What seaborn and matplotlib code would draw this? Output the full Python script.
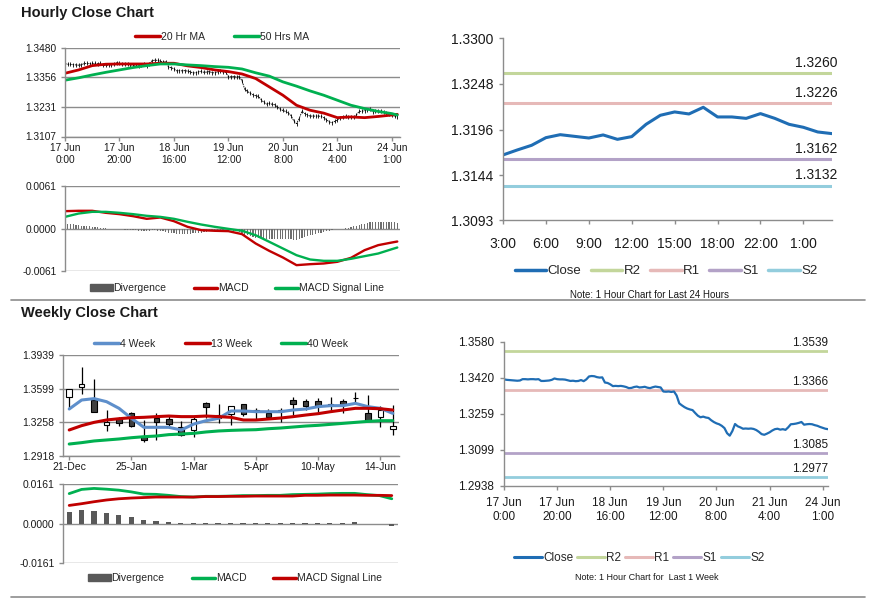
import numpy as np
import pandas as pd
import matplotlib
matplotlib.use("Agg")
import matplotlib.pyplot as plt
import seaborn as sns
from matplotlib.lines import Line2D
from matplotlib.patches import Patch

# ------------------------------------------------------------------ data
hour_labels = ["17 Jun\n0:00", "17 Jun\n20:00", "18 Jun\n16:00", "19 Jun\n12:00",
               "20 Jun\n8:00", "21 Jun\n4:00", "24 Jun\n1:00"]
hour_close = [
    1.3412, 1.3410, 1.3409, 1.3408, 1.3407, 1.3406, 1.3407, 1.3413, 1.3413, 1.3412,
    1.3413, 1.3413, 1.3412, 1.3413, 1.3405, 1.3405, 1.3406, 1.3407, 1.3410, 1.3416,
    1.3413, 1.3412, 1.3412, 1.3411, 1.3408, 1.3405, 1.3406, 1.3404, 1.3405, 1.3409,
    1.3404, 1.3412, 1.3425, 1.3427, 1.3426, 1.3422, 1.3420, 1.3421, 1.3398, 1.3396,
    1.3390, 1.3382, 1.3383, 1.3382, 1.3383, 1.3381, 1.3378, 1.3373, 1.3374, 1.3378,
    1.3380, 1.3376, 1.3377, 1.3379, 1.3375, 1.3373, 1.3377, 1.3380, 1.3378, 1.3376,
    1.3358, 1.3357, 1.3358, 1.3356, 1.3358, 1.3340, 1.3305, 1.3296, 1.3288, 1.3282,
    1.3278, 1.3275, 1.3262, 1.3250, 1.3243, 1.3246, 1.3242, 1.3240, 1.3230, 1.3222,
    1.3216, 1.3212, 1.3205, 1.3195, 1.3172, 1.3161, 1.3182, 1.3213, 1.3203, 1.3198,
    1.3192, 1.3193, 1.3192, 1.3193, 1.3191, 1.3186, 1.3178, 1.3168, 1.3165, 1.3170,
    1.3176, 1.3184, 1.3190, 1.3192, 1.3188, 1.3190, 1.3187, 1.3198, 1.3212, 1.3213,
    1.3215, 1.3218, 1.3222, 1.3210, 1.3212, 1.3213, 1.3212, 1.3208, 1.3205, 1.3200,
    1.3196, 1.3192, 1.3190]
ma_idx = [0, 5, 10, 15, 20, 25, 30, 35, 40, 45, 50, 55, 60, 65, 70, 75, 80, 85, 90,
          95, 100, 105, 110, 115, 120, 122]
ma20 = [1.3372, 1.3386, 1.3404, 1.3410, 1.3411, 1.3411, 1.3411, 1.3414, 1.3414, 1.3403,
        1.3396, 1.3386, 1.3379, 1.3369, 1.3350, 1.3315, 1.3280, 1.3238, 1.3217, 1.3205,
        1.3186, 1.3189, 1.3186, 1.3191, 1.3197, 1.3200]
ma50 = [1.3343, 1.3353, 1.3365, 1.3376, 1.3386, 1.3396, 1.3404, 1.3411, 1.3411, 1.3407,
        1.3404, 1.3400, 1.3397, 1.3390, 1.3374, 1.3360, 1.3336, 1.3318, 1.3298, 1.3280,
        1.3259, 1.3238, 1.3224, 1.3212, 1.3203, 1.3197]
h_macd = [0.00249, 0.00254, 0.00254, 0.00225, 0.00206, 0.00177, 0.00139, 0.00158, 0.00105,
          0.00024, -0.00024, -0.00033, -0.00038, -0.00081, -0.00215, -0.00321, -0.00416,
          -0.00526, -0.00512, -0.00502, -0.00478, -0.00421, -0.00311, -0.00239, -0.00201,
          -0.00187]
h_signal = [0.00167, 0.00215, 0.00239, 0.00239, 0.00225, 0.00206, 0.00182, 0.00167, 0.00139,
            0.00096, 0.00057, 0.00024, -0.00005, -0.00033, -0.00096, -0.00191, -0.00287,
            -0.00383, -0.00445, -0.00464, -0.00464, -0.00435, -0.00397, -0.00359, -0.00297,
            -0.00273]
h_div = [
    0.0007, 0.0007, 0.0006, 0.0006, 0.0005, 0.0005, 0.0004, 0.0004, 0.0003, 0.0003,
    0.0002, 0.0002, 0.0002, 0.0001, 0.0001, 0.0001, 0.0000, 0.0000, -0.0001, -0.0001,
    -0.0001, -0.0001, -0.0002, -0.0002, -0.0002, -0.0002, -0.0002, -0.0003, -0.0003, -0.0003,
    -0.0003, -0.0003, -0.0002, -0.0002, -0.0003, -0.0004, -0.0004, -0.0005, -0.0006, -0.0007,
    -0.0007, -0.0008, -0.0008, -0.0008, -0.0008, -0.0008, -0.0008, -0.0007, -0.0007, -0.0006,
    -0.0006, -0.0005, -0.0005, -0.0004, -0.0004, -0.0003, -0.0003, -0.0002, -0.0002, -0.0001,
    -0.0001, -0.0002, -0.0003, -0.0004, -0.0005, -0.0007, -0.0009, -0.0010, -0.0011, -0.0012,
    -0.0013, -0.0013, -0.0014, -0.0014, -0.0015, -0.0015, -0.0015, -0.0015, -0.0015, -0.0015,
    -0.0015, -0.0015, -0.0015, -0.0015, -0.0016, -0.0016, -0.0015, -0.0013, -0.0012, -0.0011,
    -0.0010, -0.0009, -0.0008, -0.0007, -0.0006, -0.0005, -0.0004, -0.0003, -0.0002, -0.0001,
    -0.0001, 0.0000, 0.0000, 0.0001, 0.0001, 0.0002, 0.0003, 0.0004, 0.0005, 0.0006,
    0.0007, 0.0008, 0.0009, 0.0010, 0.0010, 0.0010, 0.0010, 0.0010, 0.0010, 0.0010,
    0.0009, 0.0009, 0.0008]

day_labels = ["3:00", "6:00", "9:00", "12:00", "15:00", "18:00", "22:00", "1:00"]
day_close = [1.31671, 1.31728, 1.31781, 1.31868, 1.31902, 1.31883, 1.31864, 1.31899,
             1.31849, 1.31880, 1.32020, 1.32123, 1.32161, 1.32138, 1.32214, 1.32104,
             1.32104, 1.32088, 1.32142, 1.32088, 1.32020, 1.31986, 1.31933, 1.31914]
day_levels = {"R2": 1.3260, "R1": 1.3226, "S1": 1.3162, "S2": 1.3132}
week_levels = {"R2": 1.3539, "R1": 1.3366, "S1": 1.3085, "S2": 1.2977}

wk_labels = ["21-Dec", "25-Jan", "1-Mar", "5-Apr", "10-May", "14-Jun"]
wk_open = [1.3511, 1.3620, 1.3484, 1.3228, 1.3288, 1.3356, 1.3106, 1.3298, 1.3288, 1.3214,
           1.3181, 1.3450, 1.3333, 1.3339, 1.3440, 1.3380, 1.3356, 1.3380, 1.3484, 1.3474,
           1.3474, 1.3447, 1.3474, 1.3505, 1.3356, 1.3316, 1.3188]
wk_high = [1.3595, 1.3815, 1.3693, 1.3383, 1.3315, 1.3366, 1.3279, 1.3349, 1.3332, 1.3275,
           1.3309, 1.3467, 1.3444, 1.3427, 1.3440, 1.3403, 1.3393, 1.3400, 1.3518, 1.3491,
           1.3504, 1.3511, 1.3498, 1.3565, 1.3535, 1.3423, 1.3434]
wk_low = [1.3400, 1.3540, 1.3360, 1.3171, 1.3221, 1.3208, 1.3063, 1.3080, 1.3198, 1.3120,
          1.3107, 1.3299, 1.3255, 1.3231, 1.3322, 1.3282, 1.3309, 1.3265, 1.3332, 1.3383,
          1.3366, 1.3383, 1.3349, 1.3467, 1.3282, 1.3214, 1.3130]
wk_close = [1.3595, 1.3646, 1.3360, 1.3262, 1.3248, 1.3221, 1.3079, 1.3264, 1.3238, 1.3126,
            1.3288, 1.3410, 1.3298, 1.3427, 1.3342, 1.3376, 1.3316, 1.3372, 1.3440, 1.3423,
            1.3423, 1.3430, 1.3434, 1.3501, 1.3282, 1.3383, 1.3221]
wk_ma4 = [1.3393, 1.3484, 1.3498, 1.3467, 1.3400, 1.3299, 1.3208, 1.3208, 1.3208, 1.3181,
          1.3241, 1.3275, 1.3299, 1.3373, 1.3373, 1.3366, 1.3366, 1.3366, 1.3383, 1.3393,
          1.3417, 1.3427, 1.3427, 1.3450, 1.3417, 1.3400, 1.3349]
wk_ma13 = [1.3181, 1.3225, 1.3258, 1.3282, 1.3295, 1.3305, 1.3309, 1.3316, 1.3322, 1.3316,
           1.3316, 1.3322, 1.3316, 1.3309, 1.3282, 1.3282, 1.3292, 1.3302, 1.3316, 1.3332,
           1.3346, 1.3366, 1.3383, 1.3400, 1.3400, 1.3396, 1.3383]
wk_ma40 = [1.3039, 1.3053, 1.3070, 1.3080, 1.3090, 1.3103, 1.3113, 1.3120, 1.3134, 1.3140,
           1.3147, 1.3161, 1.3171, 1.3177, 1.3181, 1.3184, 1.3194, 1.3201, 1.3211, 1.3221,
           1.3228, 1.3238, 1.3248, 1.3258, 1.3268, 1.3275, 1.3275]
wk_macd = [0.0122, 0.0139, 0.0143, 0.0140, 0.0136, 0.0129, 0.0120, 0.0119, 0.0115, 0.0110,
           0.0108, 0.0111, 0.0111, 0.0112, 0.0114, 0.0114, 0.0115, 0.0115, 0.0118, 0.0119,
           0.0120, 0.0122, 0.0123, 0.0123, 0.0118, 0.0114, 0.0101]
wk_signal = [0.0074, 0.0081, 0.0089, 0.0096, 0.0101, 0.0104, 0.0106, 0.0108, 0.0108, 0.0108,
             0.0108, 0.0110, 0.0110, 0.0111, 0.0111, 0.0112, 0.0112, 0.0112, 0.0112, 0.0115,
             0.0115, 0.0116, 0.0116, 0.0116, 0.0115, 0.0115, 0.0114]
wk_div = [0.0047, 0.0054, 0.0050, 0.0045, 0.0037, 0.0027, 0.0015, 0.0011, 0.0008, 0.0001,
          0.0001, 0.0004, 0.0003, 0.0003, 0.0003, 0.0003, 0.0003, 0.0003, 0.0003, 0.0003,
          0.0003, 0.0003, 0.0003, 0.0008, -0.0001, -0.0001, -0.0009]

# ------------------------------------------------------------------ style
sns.set_theme(style="white")
plt.rcParams["font.family"] = ["Liberation Sans", "DejaVu Sans"]
RED, GREEN, BLUE4, CLOSE = "#C00000", "#00B050", "#5E8FCB", "#1F6DB4"
LVL_COL = {"R2": "#C3D69B", "R1": "#E6B9B8", "S1": "#B3A2C7", "S2": "#93CDDD"}
GRAY = "#8C8C8C"
TXT = "#1a1a1a"

W, H = 873, 601
fig = plt.figure(figsize=(W / 100, H / 100), dpi=100)
fig.patch.set_facecolor("white")


def box(l, t, r, b):
    return [l / W, 1 - b / H, (r - l) / W, (b - t) / H]


def base_style(ax, fs, grid=True, ticks_x=True):
    for s in ["top", "right"]:
        ax.spines[s].set_visible(False)
    ax.spines["left"].set_color(GRAY)
    ax.spines["bottom"].set_color(GRAY)
    ax.spines["left"].set_linewidth(1.0)
    ax.spines["bottom"].set_linewidth(1.0)
    ax.tick_params(axis="both", labelsize=fs, colors=GRAY, labelcolor=TXT,
                   direction="out", length=3, width=1.0)
    ax.tick_params(axis="y", left=True, pad=3)
    ax.tick_params(axis="x", bottom=ticks_x)
    if grid:
        ax.yaxis.grid(True, color=GRAY, linewidth=1.0)
    else:
        ax.grid(False)
    ax.set_xlabel("")
    ax.set_ylabel("")


def fmt4(v):
    return f"{v:.4f}"


# ================================================= Hourly price (top left)
hidx = np.arange(len(hour_close))
ax1 = fig.add_axes(box(65, 47.5, 400, 136.5))
sns.lineplot(x=hidx, y=hour_close, ax=ax1, color="black", linewidth=0.6,
             linestyle=(0, (2, 1)), marker="|", markersize=2.2, markeredgewidth=0.6,
             markeredgecolor="black")
sns.lineplot(x=ma_idx, y=ma20, ax=ax1, color=RED, linewidth=2.0)
sns.lineplot(x=ma_idx, y=ma50, ax=ax1, color=GREEN, linewidth=2.0)
ax1.set_xlim(0, 123)
ax1.set_ylim(1.3107, 1.3480)
yt = [1.3107, 1.3231, 1.3356, 1.3480]
ax1.set_yticks(yt)
ax1.set_yticklabels([fmt4(v) for v in yt])
ax1.set_xticks([0, 20, 40, 60, 80, 100, 120])
ax1.set_xticklabels(hour_labels)
base_style(ax1, 7.3)
ax1.tick_params(axis="x", pad=2, length=3)
ax1.legend(handles=[Line2D([], [], color=RED, lw=2.5), Line2D([], [], color=GREEN, lw=2.5)],
           labels=["20 Hr MA", "50 Hrs MA"], loc="center",
           bbox_to_anchor=(222 / W, 1 - 37 / H), bbox_transform=fig.transFigure,
           ncol=2, frameon=False, fontsize=7.5, handlelength=2.4, handletextpad=0.1,
           columnspacing=2.8)

# ================================================= Hourly MACD
ax2 = fig.add_axes(box(65, 186, 400, 271))
ax2.bar(hidx, h_div, width=0.45, color="#6F6F6F", linewidth=0)
sns.lineplot(x=ma_idx, y=h_macd, ax=ax2, color=RED, linewidth=1.7)
sns.lineplot(x=ma_idx, y=h_signal, ax=ax2, color=GREEN, linewidth=1.7)
ax2.set_xlim(0, 123)
ax2.set_ylim(-0.0061, 0.0061)
ax2.set_yticks([-0.0061, 0.0, 0.0061])
ax2.set_yticklabels(["-0.0061", "0.0000", "0.0061"])
ax2.set_xticks([])
base_style(ax2, 7.3)
ax2.spines["bottom"].set_visible(False)
ax2.set_axisbelow(True)
ax2.legend(handles=[Patch(color="#595959"), Line2D([], [], color=RED, lw=2.5),
                    Line2D([], [], color=GREEN, lw=2.5)],
           labels=["Divergence", "MACD", "MACD Signal Line"], loc="center",
           bbox_to_anchor=(237 / W, 1 - 288 / H), bbox_transform=fig.transFigure,
           ncol=3, frameon=False, fontsize=7.5, handlelength=2.2, handleheight=0.6,
           handletextpad=0.1, columnspacing=2.6)

# ================================================= 24 h chart (top right)
didx = np.arange(len(day_close))
ax3 = fig.add_axes(box(503, 38.3, 832, 220))
for name, v in day_levels.items():
    ax3.axhline(v, color=LVL_COL[name], linewidth=2.2)
    ax3.annotate(fmt4(v), xy=(1, v), xycoords=("axes fraction", "data"),
                 xytext=(4, 2.5), textcoords="offset points", ha="right", va="bottom",
                 fontsize=10, color=TXT)
sns.lineplot(x=didx, y=day_close, ax=ax3, color=CLOSE, linewidth=2.2)
ax3.set_xlim(0, 23)
ax3.set_ylim(1.3093, 1.3300)
yt = [1.3093, 1.3144, 1.3196, 1.3248, 1.3300]
ax3.set_yticks(yt)
ax3.set_yticklabels([fmt4(v) for v in yt])
ax3.set_xticks([0, 3, 6, 9, 12, 15, 18, 21])
ax3.set_xticklabels(day_labels)
base_style(ax3, 10, grid=False)
ax3.tick_params(axis="x", pad=9)
ax3.tick_params(axis="y", pad=4)
lv_handles = [Line2D([], [], color=CLOSE, lw=2.5)] + \
             [Line2D([], [], color=LVL_COL[k], lw=2.5) for k in day_levels]
ax3.legend(handles=lv_handles, labels=["Close"] + list(day_levels.keys()), loc="center",
           bbox_to_anchor=(666 / W, 1 - 271 / H), bbox_transform=fig.transFigure,
           ncol=5, frameon=False, fontsize=9.5, handlelength=2.4, handletextpad=0.1,
           columnspacing=0.7)
fig.text(649 / W, 1 - 295 / H, "Note: 1 Hour Chart for Last 24 Hours", ha="center",
         va="center", fontsize=7, color=TXT)

# ================================================= Weekly price (bottom left)
widx = np.arange(len(wk_close))
ax4 = fig.add_axes(box(63, 355, 399, 456))
ax4.vlines(widx, wk_low, wk_high, color="black", linewidth=0.9, zorder=2)
body_bottom = [min(o, c) for o, c in zip(wk_open, wk_close)]
body_h = [abs(c - o) for o, c in zip(wk_open, wk_close)]
body_col = ["white" if c >= o else "#404040" for o, c in zip(wk_open, wk_close)]
ax4.bar(widx, body_h, bottom=body_bottom, width=0.45, color=body_col,
        edgecolor="black", linewidth=0.8, zorder=3)
sns.lineplot(x=widx, y=wk_ma4, ax=ax4, color=BLUE4, linewidth=2.2, zorder=4)
sns.lineplot(x=widx, y=wk_ma13, ax=ax4, color=RED, linewidth=2.2, zorder=4)
sns.lineplot(x=widx, y=wk_ma40, ax=ax4, color=GREEN, linewidth=2.2, zorder=4)
ax4.set_xlim(-0.5, 26.5)
ax4.set_ylim(1.2918, 1.3939)
yt = [1.2918, 1.3258, 1.3599, 1.3939]
ax4.set_yticks(yt)
ax4.set_yticklabels([fmt4(v) for v in yt])
ax4.set_xticks([0, 5, 10, 15, 20, 25])
ax4.set_xticklabels(wk_labels)
base_style(ax4, 7.5)
ax4.set_axisbelow(True)
ax4.tick_params(axis="x", pad=1.5)
ax4.legend(handles=[Line2D([], [], color=BLUE4, lw=2.5), Line2D([], [], color=RED, lw=2.5),
                    Line2D([], [], color=GREEN, lw=2.5)],
           labels=["4 Week", "13 Week", "40 Week"], loc="center",
           bbox_to_anchor=(221 / W, 1 - 344 / H), bbox_transform=fig.transFigure,
           ncol=3, frameon=False, fontsize=7.5, handlelength=2.4, handletextpad=0.1,
           columnspacing=2.8)

# ================================================= Weekly MACD
ax5 = fig.add_axes(box(63, 484, 398, 563.3))
ax5.bar(widx, wk_div, width=0.42, color="#595959", linewidth=0, zorder=2)
sns.lineplot(x=widx, y=wk_macd, ax=ax5, color=GREEN, linewidth=2.0, zorder=3)
sns.lineplot(x=widx, y=wk_signal, ax=ax5, color=RED, linewidth=2.0, zorder=3)
ax5.set_xlim(-0.5, 26.5)
ax5.set_ylim(-0.0161, 0.0161)
ax5.set_yticks([-0.0161, 0.0, 0.0161])
ax5.set_yticklabels(["-0.0161", "0.0000", "0.0161"])
ax5.set_xticks([])
base_style(ax5, 7.5)
ax5.spines["bottom"].set_visible(False)
ax5.set_axisbelow(True)
ax5.legend(handles=[Patch(color="#595959"), Line2D([], [], color=GREEN, lw=2.5),
                    Line2D([], [], color=RED, lw=2.5)],
           labels=["Divergence", "MACD", "MACD Signal Line"], loc="center",
           bbox_to_anchor=(235 / W, 1 - 578 / H), bbox_transform=fig.transFigure,
           ncol=3, frameon=False, fontsize=7.5, handlelength=2.2, handleheight=0.6,
           handletextpad=0.1, columnspacing=2.6)

# ================================================= 1 week hourly (bottom right)
ax6 = fig.add_axes(box(504, 341.7, 828, 485.7))
for name, v in week_levels.items():
    ax6.axhline(v, color=LVL_COL[name], linewidth=2.0)
    ax6.annotate(fmt4(v), xy=(1, v), xycoords=("axes fraction", "data"),
                 xytext=(0, 1.5), textcoords="offset points", ha="right", va="bottom",
                 fontsize=8.5, color=TXT)
sns.lineplot(x=hidx, y=hour_close, ax=ax6, color=CLOSE, linewidth=1.6)
ax6.set_xlim(0, 122)
ax6.set_ylim(1.2938, 1.3580)
yt = [1.2938, 1.3099, 1.3259, 1.3420, 1.3580]
ax6.set_yticks(yt)
ax6.set_yticklabels([fmt4(v) for v in yt])
ax6.set_xticks([0, 20, 40, 60, 80, 100, 120])
ax6.set_xticklabels(hour_labels)
base_style(ax6, 8.5, grid=False)
ax6.tick_params(axis="x", pad=5)
ax6.tick_params(axis="y", pad=4)
lv_handles = [Line2D([], [], color=CLOSE, lw=2.2)] + \
             [Line2D([], [], color=LVL_COL[k], lw=2.2) for k in week_levels]
ax6.legend(handles=lv_handles, labels=["Close"] + list(week_levels.keys()), loc="center",
           bbox_to_anchor=(639 / W, 1 - 558 / H), bbox_transform=fig.transFigure,
           ncol=5, frameon=False, fontsize=8.5, handlelength=2.4, handletextpad=0.1,
           columnspacing=0.3)
fig.text(647 / W, 1 - 578 / H, "Note: 1 Hour Chart for  Last 1 Week", ha="center",
         va="center", fontsize=6.5, color=TXT)

# ================================================= titles & separators
fig.text(21 / W, 1 - 13 / H, "Hourly Close Chart", ha="left", va="center",
         fontsize=10.5, fontweight="bold", color=TXT)
fig.text(21 / W, 1 - 313 / H, "Weekly Close Chart", ha="left", va="center",
         fontsize=10.5, fontweight="bold", color=TXT)
for yy in (300, 597):
    fig.add_artist(Line2D([11 / W, 865 / W], [1 - yy / H, 1 - yy / H],
                          transform=fig.transFigure, color=GRAY, linewidth=1.2))

fig.savefig("out.png", dpi=100, facecolor="white")
